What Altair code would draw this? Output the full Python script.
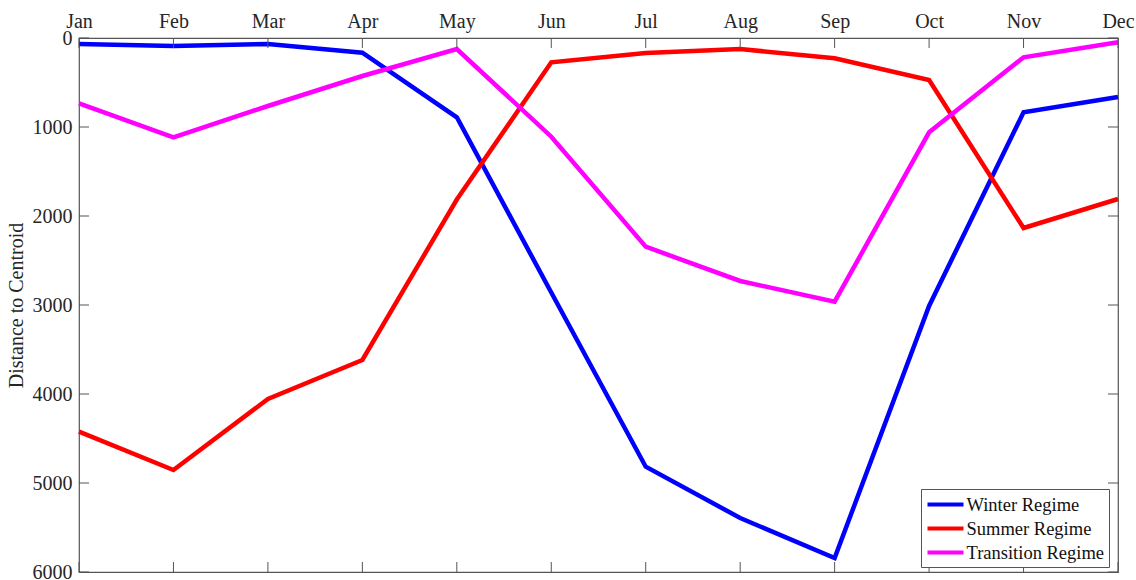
import altair as alt
import pandas as pd

# Monthly distance of each regime to its centroid
months = ["Jan", "Feb", "Mar", "Apr", "May", "Jun",
          "Jul", "Aug", "Sep", "Oct", "Nov", "Dec"]
winter = [67, 90, 67, 165, 891, 2860, 4817, 5393, 5843, 3010, 835, 663]
summer = [4423, 4854, 4056, 3618, 1815, 273, 169, 124, 228, 472, 2135, 1809]
transition = [734, 1116, 764, 427, 124, 1109, 2345, 2730, 2963, 1060, 217, 48]

regimes = ["Winter Regime", "Summer Regime", "Transition Regime"]
colors = ["#0000FF", "#FF0000", "#FF00FF"]
y_ticks = [0, 1000, 2000, 3000, 4000, 5000, 6000]

W, H = 1039, 534
FONT = "Liberation Serif"
AXIS_GRAY = "#555555"
TEXT = "#262626"
TICK = 10

rows = []
for name, series in zip(regimes, [winter, summer, transition]):
    for m, v in zip(months, series):
        rows.append({"Month": m, "Distance": v, "Regime": name})
df = pd.DataFrame(rows)

x_scale = alt.Scale(type="point", padding=0)
y_scale = alt.Scale(domain=[0, 6000], reverse=True, nice=False)
x_axis = alt.Axis(orient="top", title=None, labelAngle=0,
                  ticks=False, domain=False, grid=False, labelPadding=7)
y_axis = alt.Axis(values=y_ticks, format="d", title="Distance to Centroid",
                  ticks=False, domain=False, grid=False,
                  labelPadding=7, titlePadding=6)

# Same axis definition on every layer so the merged axes stay consistent
x_enc = alt.X("Month:N", sort=months, scale=x_scale, axis=x_axis)
y_enc = alt.Y("Distance:Q", scale=y_scale, axis=y_axis)

lines = alt.Chart(df).mark_line(strokeWidth=4.5).encode(
    x=x_enc,
    y=y_enc,
    color=alt.Color("Regime:N",
                    scale=alt.Scale(domain=regimes, range=colors),
                    sort=regimes,
                    legend=alt.Legend(title=None, orient="none",
                                      legendX=842, legendY=451,
                                      strokeColor=AXIS_GRAY, fillColor="white",
                                      padding=4.5, rowPadding=3,
                                      symbolType="M-1,0H3", symbolSize=324,
                                      symbolStrokeWidth=4, labelOffset=19,
                                      labelFont=FONT, labelFontSize=18.5,
                                      labelColor="#111111", labelLimit=300)),
)

# Inward tick marks on all four sides of the box
month_df = pd.DataFrame({"Month": months})
ytick_df = pd.DataFrame({"Distance": y_ticks})
rule = dict(color=AXIS_GRAY, strokeWidth=1)

xt_top = alt.Chart(month_df).mark_rule(**rule).encode(
    x=x_enc, y=alt.value(0), y2=alt.value(TICK))
xt_bot = alt.Chart(month_df).mark_rule(**rule).encode(
    x=x_enc, y=alt.value(H), y2=alt.value(H - TICK))
yt_left = alt.Chart(ytick_df).mark_rule(**rule).encode(
    y=y_enc, x=alt.value(0), x2=alt.value(TICK))
yt_right = alt.Chart(ytick_df).mark_rule(**rule).encode(
    y=y_enc, x=alt.value(W), x2=alt.value(W - TICK))

chart = alt.layer(lines, xt_top, xt_bot, yt_left, yt_right).properties(
    width=W, height=H,
    autosize=alt.AutoSizeParams(type="none"),
    padding={"left": 79, "top": 38, "right": 18, "bottom": 8},
).configure_view(
    stroke=AXIS_GRAY, strokeWidth=1.2
).configure_axis(
    labelFont=FONT, labelFontSize=20, labelColor=TEXT,
    titleFont=FONT, titleFontSize=20, titleFontWeight="normal",
    titleColor=TEXT,
)

chart.save("out.html", embed_options={"renderer": "svg", "actions": False})
